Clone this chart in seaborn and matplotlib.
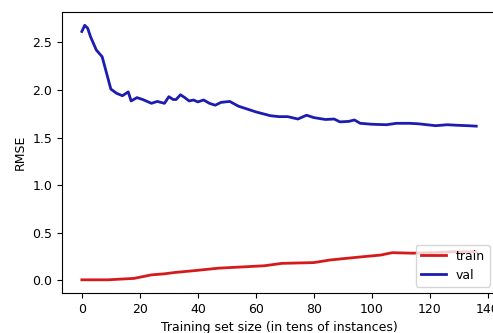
import matplotlib
matplotlib.use("Agg")
import matplotlib.pyplot as plt
import seaborn as sns

# learning curve values (size in tens of instances)
val_sizes = [0, 1, 2, 3, 5, 7, 8.5, 10, 12, 14, 16, 17, 19, 21, 24, 26, 28.5, 30,
             31.5, 32.5, 34, 35.5, 37, 38.5, 40, 42, 44, 46, 48, 51, 54, 57, 60,
             65, 68, 71, 74.5, 77.5, 80, 84, 87, 89, 92, 94, 96, 100, 105, 108.5,
             113, 116, 119, 122, 126, 129, 133, 136]
val_rmse = [2.615, 2.68, 2.65, 2.56, 2.42, 2.35, 2.18, 2.01, 1.965, 1.94, 1.98,
            1.885, 1.92, 1.90, 1.86, 1.88, 1.86, 1.93, 1.90, 1.90, 1.95, 1.92,
            1.885, 1.895, 1.875, 1.895, 1.86, 1.84, 1.87, 1.88, 1.83, 1.80, 1.77,
            1.73, 1.72, 1.72, 1.695, 1.735, 1.71, 1.69, 1.695, 1.665, 1.67, 1.685,
            1.65, 1.64, 1.635, 1.65, 1.65, 1.645, 1.635, 1.625, 1.635, 1.63,
            1.625, 1.62]

train_sizes = [0, 9, 18, 24, 28.5, 32, 39, 47, 53, 57, 63, 69, 80, 85.5, 91,
               97, 103, 107, 114, 120, 128, 136]
train_rmse = [0.005, 0.005, 0.02, 0.057, 0.068, 0.082, 0.102, 0.127, 0.137,
              0.143, 0.153, 0.178, 0.186, 0.213, 0.23, 0.248, 0.265, 0.29,
              0.285, 0.29, 0.30, 0.30]

plt.rcParams["font.size"] = 9

fig = plt.figure(figsize=(4.93, 3.33), dpi=100)
ax = fig.add_axes([0.126, 0.120, 0.880, 0.844])

sns.lineplot(x=train_sizes, y=train_rmse, color="#d41a1a", linewidth=2, label="train", ax=ax)
sns.lineplot(x=val_sizes, y=val_rmse, color="#1c1cb0", linewidth=2, label="val", ax=ax)

ax.set_xlim(-6.8, 142.8)
ax.set_ylim(-0.134, 2.82)
ax.set_xticks([0, 20, 40, 60, 80, 100, 120, 140])
ax.set_xlabel("Training set size (in tens of instances)")
ax.set_ylabel("RMSE")
ax.legend(loc="lower right", fontsize=9)

fig.savefig("out.png", dpi=100)
